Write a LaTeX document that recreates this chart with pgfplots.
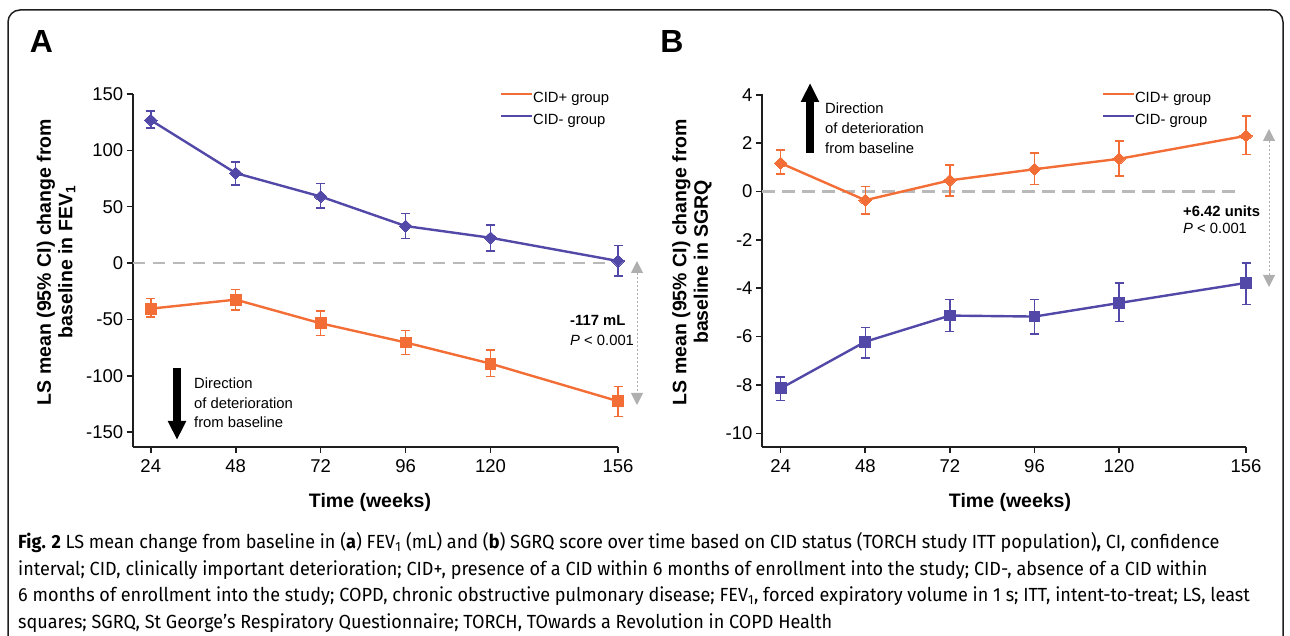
\documentclass[border=0pt]{standalone}
\usepackage{fontspec}
\setmainfont{Liberation Sans}
\newfontfamily\capfont[FakeStretch=0.95]{Fira Sans}
\usepackage{pgfplots}
\pgfplotsset{compat=1.18}
\usepackage{pgfplotstable}
\usetikzlibrary{arrows.meta}

\definecolor{cidplus}{RGB}{242,110,54}
\definecolor{cidminus}{RGB}{82,72,168}
\definecolor{zgray}{RGB}{185,185,185}
\definecolor{agray}{RGB}{175,175,175}
\definecolor{axcol}{RGB}{30,30,30}

% Panel A: FEV1
\pgfplotstableread{
x y lo hi
24 126.8 119.7 135.0
48 79.8 69.4 89.5
72 59.0 48.8 70.6
96 32.8 21.8 44.0
120 22.4 10.6 33.7
156 1.8 -11.3 15.6
}\tabAminus
\pgfplotstableread{
x y lo hi
24 -40.5 -48.0 -31.7
48 -32.5 -41.5 -23.7
72 -53.5 -64.5 -42.6
96 -70.5 -81.4 -59.8
120 -89.3 -100.6 -77.0
156 -122.6 -136.0 -109.8
}\tabAplus
% Panel B: SGRQ
\pgfplotstableread{
x y lo hi
24 1.17 0.72 1.71
48 -0.36 -0.94 0.20
72 0.46 -0.18 1.09
96 0.92 0.28 1.59
120 1.35 0.65 2.08
156 2.30 1.53 3.13
}\tabBplus
\pgfplotstableread{
x y lo hi
24 -8.14 -8.65 -7.66
48 -6.21 -6.89 -5.62
72 -5.13 -5.78 -4.46
96 -5.17 -5.89 -4.46
120 -4.61 -5.38 -3.78
156 -3.78 -4.67 -2.95
}\tabBminus

\pgfplotsset{
  panel/.style={
    scale only axis, anchor=south west,
    axis lines*=left,
    axis line style={line width=1.8pt, color=axcol},
    every tick/.style={line width=1.6pt, color=axcol},
    major tick length=6pt, tick align=outside,
    xtick={24,48,72,96,120,156},
    xticklabels={24,48,72,96,120,156},
    tick label style={font=\fontsize{18.5}{22}\selectfont},
    xticklabel style={yshift=-3pt},
    clip=false,
    legend style={draw=none, fill=none, anchor=north west,
      font=\fontsize{14.8}{17}\selectfont, row sep=8pt, inner sep=0pt,
      nodes={inner sep=0pt, text height=11pt, text depth=3pt},
      /tikz/every even column/.append style={column sep=8pt}},
    legend image code/.code={\draw[#1] (0pt,4pt) -- (31pt,4pt);},
    legend cell align=left,
  },
  diam/.style={#1, line width=2.4pt, mark=diamond*, mark size=6pt,
    mark options={solid, xscale=1.4, line width=0pt, fill=#1},
    error bars/y dir=both, error bars/y explicit,
    error bars/error bar style={line width=1.5pt, #1},
    error bars/error mark options={rotate=90, mark size=4.5pt, line width=1.5pt, #1}},
  sq/.style={#1, line width=2.4pt, mark=square*, mark size=5.4pt,
    mark options={solid, line width=0pt, fill=#1},
    error bars/y dir=both, error bars/y explicit,
    error bars/error bar style={line width=1.5pt, #1},
    error bars/error mark options={rotate=90, mark size=4.5pt, line width=1.5pt, #1}},
}

\newcommand{\ann}{\fontsize{14.8}{17}\selectfont}
\newcommand{\lab}{\fontsize{19.5}{21.5}\selectfont\bfseries}

\begin{document}
\begin{tikzpicture}
\useasboundingbox (0,0) rectangle (1290pt,636pt);
\draw[line width=1.5pt, color=axcol, rounded corners=12pt] (8pt,-30pt) rectangle (1283pt,626pt);

% ---------- Panel A ----------
\begin{axis}[panel, at={(132.7pt,189.3pt)}, width=485.3pt, height=352.7pt,
  xmin=18.9, xmax=156, ymin=-163, ymax=150,
  ytick={-150,-100,-50,0,50,100,150},
  yticklabels={-150,-100,-50,0,50,100,150},
  legend style={at={(0.757,1.008)}}]
\addlegendimage{cidplus, line width=1.8pt}
\addlegendentry{CID+ group}
\addlegendimage{cidminus, line width=1.8pt}
\addlegendentry{CID- group}
\addplot[forget plot, zgray, line width=2.3pt, dash pattern=on 12.5pt off 7.5pt] coordinates {(18.9,0) (153.7,0)};
\addplot[forget plot, diam=cidminus] table[x=x, y=y, y error plus expr=\thisrow{hi}-\thisrow{y}, y error minus expr=\thisrow{y}-\thisrow{lo}] {\tabAminus};
\addplot[forget plot, sq=cidplus] table[x=x, y=y, y error plus expr=\thisrow{hi}-\thisrow{y}, y error minus expr=\thisrow{y}-\thisrow{lo}] {\tabAplus};
\end{axis}

% ---------- Panel B ----------
\begin{axis}[panel, at={(762pt,189.3pt)}, width=484pt, height=352.7pt,
  xmin=18.7, xmax=156, ymin=-10.55, ymax=4.03,
  ytick={-10,-8,-6,-4,-2,0,2,4},
  yticklabels={-10,-8,-6,-4,-2,0,2,4},
  legend style={at={(0.7025,1.008)}}]
\addlegendimage{cidplus, line width=1.8pt}
\addlegendentry{CID+ group}
\addlegendimage{cidminus, line width=1.8pt}
\addlegendentry{CID- group}
\addplot[forget plot, zgray, line width=2.3pt, dash pattern=on 12.5pt off 7.5pt] coordinates {(18.7,0) (154.8,0)};
\addplot[forget plot, sq=cidminus] table[x=x, y=y, y error plus expr=\thisrow{hi}-\thisrow{y}, y error minus expr=\thisrow{y}-\thisrow{lo}] {\tabBminus};
\addplot[forget plot, diam=cidplus] table[x=x, y=y, y error plus expr=\thisrow{hi}-\thisrow{y}, y error minus expr=\thisrow{y}-\thisrow{lo}] {\tabBplus};
\end{axis}

% ---------- panel letters ----------
\node[font=\fontsize{32}{34}\selectfont\bfseries] at (41.5pt,594.5pt) {A};
\node[font=\fontsize{32}{34}\selectfont\bfseries] at (672pt,594.5pt) {B};

% ---------- axis labels ----------
\node[rotate=90, align=center, font=\lab, inner sep=0pt] at (56pt,374pt)
  {LS mean (95\% CI) change from\\baseline in FEV\textsubscript{1}};
\node[rotate=90, align=center, font=\lab, inner sep=0pt] at (692pt,374pt)
  {LS mean (95\% CI) change from\\baseline in SGRQ};
\node[font=\lab, inner sep=0pt] at (370pt,134pt) {Time (weeks)};
\node[font=\lab, inner sep=0pt] at (1010pt,134pt) {Time (weeks)};

% ---------- direction arrows ----------
\draw[line width=8pt, -{Triangle[width=17pt,length=19pt]}] (177pt,268pt) -- (177pt,196pt);
\node[anchor=base west, font=\ann, inner sep=0pt] at (194pt,247.7pt) {Direction};
\node[anchor=base west, font=\ann, inner sep=0pt] at (194pt,227.7pt) {of deterioration};
\node[anchor=base west, font=\ann, inner sep=0pt] at (194pt,208.5pt) {from baseline};

\draw[line width=8pt, -{Triangle[width=17pt,length=19pt]}] (810pt,483pt) -- (810pt,553pt);
\node[anchor=base west, font=\ann, inner sep=0pt] at (825pt,522.7pt) {Direction};
\node[anchor=base west, font=\ann, inner sep=0pt] at (825pt,502.7pt) {of deterioration};
\node[anchor=base west, font=\ann, inner sep=0pt] at (825pt,482.7pt) {from baseline};

% ---------- difference annotations ----------
\draw[agray, line width=1pt, dash pattern=on 2pt off 2pt,
  {Triangle[width=12pt,length=12pt]}-{Triangle[width=12pt,length=12pt]}] (637pt,375pt) -- (637pt,231pt);
\node[anchor=base west, font=\ann\bfseries, inner sep=0pt] at (570pt,310pt) {-117 mL};
\node[anchor=base west, font=\ann, inner sep=0pt] at (570pt,290pt) {\textit{P} < 0.001};

\draw[agray, line width=1pt, dash pattern=on 2pt off 2pt,
  {Triangle[width=12pt,length=12pt]}-{Triangle[width=12pt,length=12pt]}] (1269pt,507pt) -- (1269pt,349pt);
\node[anchor=base west, font=\ann\bfseries, inner sep=0pt] at (1183pt,419pt) {+6.42 units};
\node[anchor=base west, font=\ann, inner sep=0pt] at (1183pt,402pt) {\textit{P} < 0.001};

% ---------- caption ----------
\begin{scope}[every node/.style={anchor=base west, inner sep=0pt, font=\capfont\fontsize{19}{22}\selectfont}]
\node at (18pt,87pt) {\textbf{Fig. 2} LS mean change from baseline in (\textbf{a}) FEV\textsubscript{1} (mL) and (\textbf{b}) SGRQ score over time based on CID status (TORCH study ITT population)\textbf{,} CI, confidence};
\node at (18pt,60.5pt) {interval; CID, clinically important deterioration; CID+, presence of a CID within 6 months of enrollment into the study; CID-, absence of a CID within};
\node at (18pt,34pt) {6 months of enrollment into the study; COPD, chronic obstructive pulmonary disease; FEV\textsubscript{1}, forced expiratory volume in 1 s; ITT, intent-to-treat; LS, least};
\node at (18pt,7.5pt) {squares; SGRQ, St George’s Respiratory Questionnaire; TORCH, TOwards a Revolution in COPD Health};
\end{scope}
\end{tikzpicture}
\end{document}
